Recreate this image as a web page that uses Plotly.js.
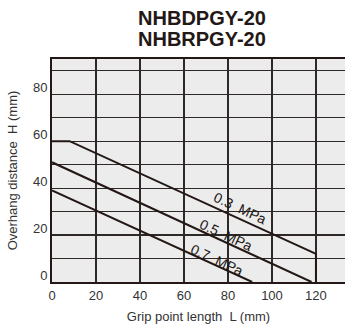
<!DOCTYPE html>
<html>
<head>
<meta charset="utf-8">
<script src="https://cdn.plot.ly/plotly-3.0.1.min.js"></script>
<style>html,body{margin:0;padding:0;background:#fff;}#chart{width:345px;height:327px;}</style>
</head>
<body>
<div id="chart"></div>
<script>
// Data
const titleLines = ['NHBDPGY-20', 'NHBRPGY-20'];
const series = ['0.3\u00a0 MPa', '0.5\u00a0 MPa', '0.7\u00a0 MPa'];
const L_03 = [0, 8, 120, 120];
const H_03 = [60, 60, 12, 0];
const L_05 = [0, 118];
const H_05 = [51, 0];
const L_07 = [0, 91];
const H_07 = [39, 0];
const labelL = [85.4, 79.1, 75];
const labelH = [31.4, 20.1, 9.5];
const yTickVals = [0, 10, 20, 30, 40, 50, 60, 70, 80, 90];
const yTickText = ['0', '', '20', '', '40', '', '60', '', '80', ''];
const xTickVals = [0, 20, 40, 60, 80, 100, 120];
const xTickText = ['0', '20', '40', '60', '80', '100', '120'];

const ink = '#231815';
const grid = '#2e2826';
const font = 'Liberation Sans, Arial, Helvetica, sans-serif';

const xs = [L_03, L_05, L_07];
const ys = [H_03, H_05, H_07];
const traces = xs.map((x, i) => ({
  x: x, y: ys[i], type: 'scatter', mode: 'lines', name: series[i],
  line: {color: ink, width: 2}, showlegend: false, hoverinfo: 'skip'
}));

const annotations = series.map((s, i) => ({
  x: labelL[i], y: labelH[i], xref: 'x', yref: 'y', text: s,
  showarrow: false, textangle: 25, xanchor: 'center', yanchor: 'middle',
  font: {family: font, size: 14, color: ink}
}));
annotations.push({
  xref: 'paper', yref: 'paper', x: (202 - 52) / 293, y: (282.3 - 39) / 223,
  xanchor: 'center', yanchor: 'middle', showarrow: false,
  text: '<b>' + titleLines[1] + '</b>', font: {family: font, size: 20, color: ink}
});

const layout = {
  width: 345, height: 327,
  margin: {l: 52, r: 0, t: 59, b: 45},
  paper_bgcolor: '#ffffff', plot_bgcolor: '#ececec',
  title: {text: '<b>' + titleLines[0] + '</b>', x: 202 / 345, xanchor: 'center',
          y: 1 - 18 / 327, yanchor: 'middle', yref: 'container',
          font: {family: font, size: 20, color: ink}},
  xaxis: {
    range: [0, 133.2], tickmode: 'array', tickvals: xTickVals, ticktext: xTickText,
    showgrid: true, gridcolor: grid, gridwidth: 1.2, zeroline: false,
    showline: true, linecolor: ink, linewidth: 2, mirror: true,
    ticks: '', automargin: false,
    tickfont: {family: font, size: 13, color: '#333'},
    title: {text: 'Grip point length\u00a0 L (mm)', standoff: 10,
            font: {family: font, size: 13, color: '#333'}}
  },
  yaxis: {
    range: [0, 95], tickmode: 'array', tickvals: yTickVals, ticktext: yTickText,
    showgrid: true, gridcolor: grid, gridwidth: 1.2, zeroline: false,
    showline: true, linecolor: ink, linewidth: 2, mirror: false,
    ticks: '', automargin: false, ticklabelshift: -7,
    tickfont: {family: font, size: 13, color: '#333'},
    title: {text: 'Overhang distance\u00a0 H (mm)', standoff: 12,
            font: {family: font, size: 13, color: '#333'}}
  },
  annotations: annotations
};

Plotly.newPlot('chart', traces, layout, {staticPlot: true, displayModeBar: false});
</script>
</body>
</html>
